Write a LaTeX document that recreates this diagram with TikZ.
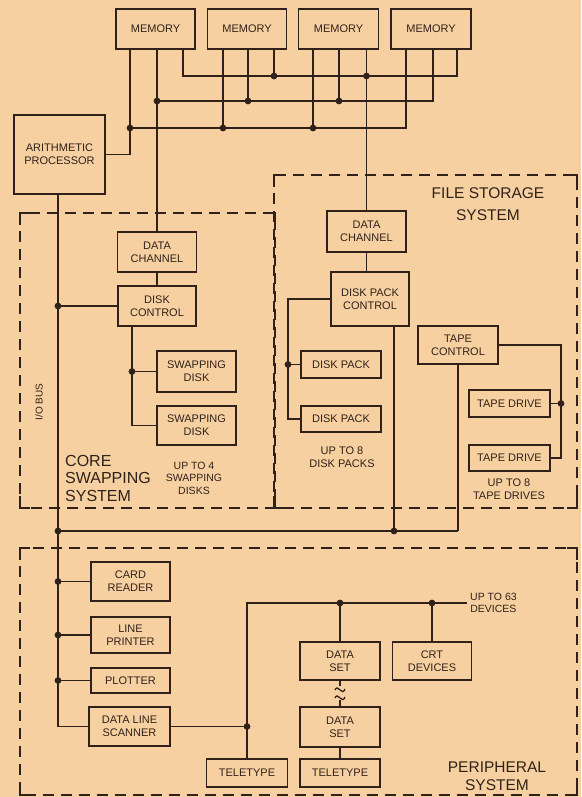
\documentclass[tikz,border=0pt]{standalone}
\usepackage{fontspec}
\setmainfont{Liberation Sans}
\definecolor{bg}{RGB}{246,208,160}
\definecolor{ink}{RGB}{48,34,26}
\newcommand{\grpframe}[4]{%
  \draw[grp] (#1,#2) rectangle (#3,#4);
  \draw[grpc] (#1+10,#2) -- (#1,#2) -- (#1,#2+12);
  \draw[grpc] (#3-10,#2) -- (#3,#2) -- (#3,#2+12);
  \draw[grpc] (#1+10,#4) -- (#1,#4) -- (#1,#4-12);
  \draw[grpc] (#3-10,#4) -- (#3,#4) -- (#3,#4-12);}
\begin{document}
\begin{tikzpicture}[x=1pt,y=-1pt,
  box/.style={draw=ink,line width=1.7pt,text=ink,font=\fontsize{11}{13}\selectfont,align=center,inner sep=1pt},
  conn/.style={draw=ink,line width=1.3pt},
  grp/.style={draw=ink,line width=1.8pt,dash pattern=on 11pt off 7pt},
  grpc/.style={draw=ink,line width=1.8pt},
  lbl/.style={text=ink,font=\fontsize{11}{13}\selectfont,align=center,inner sep=0pt},
  big/.style={text=ink,font=\fontsize{15.5}{18}\selectfont,align=center,inner sep=0pt},
  jdot/.style={fill=ink}]
\fill[bg] (0,0) rectangle (581,797);
\useasboundingbox (0,0) rectangle (581,797);

% group frames
\grpframe{20}{213}{275}{508}
\grpframe{274}{175}{577}{508}
\grpframe{20}{548}{577}{795}

% memories and processor
\node[box,minimum width=79pt,minimum height=40pt] (mem1) at (155.5,29) {MEMORY};
\node[box,minimum width=79pt,minimum height=40pt] (mem2) at (247,29) {MEMORY};
\node[box,minimum width=80pt,minimum height=40pt] (mem3) at (338.5,29) {MEMORY};
\node[box,minimum width=80pt,minimum height=40pt] (mem4) at (431,29) {MEMORY};
\node[box,minimum width=91pt,minimum height=79pt] (proc) at (59.5,154.5) {ARITHMETIC\\PROCESSOR};

% core swapping
\node[box,minimum width=79pt,minimum height=40pt] (dc1) at (157,252) {DATA\\CHANNEL};
\node[box,minimum width=78pt,minimum height=40pt] (dctl) at (157,306) {DISK\\CONTROL};
\node[box,minimum width=79pt,minimum height=41pt] (sd1) at (196.5,371.5) {SWAPPING\\DISK};
\node[box,minimum width=79pt,minimum height=39pt] (sd2) at (196.5,425.5) {SWAPPING\\DISK};

% file storage
\node[box,minimum width=79pt,minimum height=41pt] (dc2) at (366.5,231.5) {DATA\\CHANNEL};
\node[box,minimum width=78pt,minimum height=54pt] (dpc) at (370,299) {DISK PACK\\CONTROL};
\node[box,minimum width=80pt,minimum height=27pt] (dp1) at (341,364.5) {DISK PACK};
\node[box,minimum width=80pt,minimum height=26pt] (dp2) at (341,419) {DISK PACK};
\node[box,minimum width=80pt,minimum height=38pt] (tc) at (458,345) {TAPE\\CONTROL};
\node[box,minimum width=81pt,minimum height=27pt] (td1) at (509.5,403.5) {TAPE DRIVE};
\node[box,minimum width=81pt,minimum height=26pt] (td2) at (509.5,458) {TAPE DRIVE};

% peripheral
\node[box,minimum width=79pt,minimum height=39pt] (card) at (130.5,581.5) {CARD\\READER};
\node[box,minimum width=79pt,minimum height=36pt] (lp) at (130.5,635) {LINE\\PRINTER};
\node[box,minimum width=79pt,minimum height=25pt] (plot) at (130.5,680.5) {PLOTTER};
\node[box,minimum width=81pt,minimum height=39pt] (dls) at (129.5,726.5) {DATA LINE\\SCANNER};
\node[box,minimum width=81pt,minimum height=28pt] (tt1) at (247,773) {TELETYPE};
\node[box,minimum width=80pt,minimum height=38pt] (ds1) at (340,661) {DATA\\SET};
\node[box,minimum width=79pt,minimum height=38pt] (crt) at (432,661) {CRT\\DEVICES};
\node[box,minimum width=80pt,minimum height=40pt] (ds2) at (340,727) {DATA\\SET};
\node[box,minimum width=80pt,minimum height=28pt] (tt2) at (340,773) {TELETYPE};

% junction coordinates
\coordinate (c11) at (183,76);
\coordinate (j12) at (274,76);
\coordinate (j13) at (366.5,76);
\coordinate (c14) at (457,76);
\coordinate (j21) at (157,101);
\coordinate (j22) at (248,101);
\coordinate (j23) at (339,101);
\coordinate (c24) at (433,101);
\coordinate (j31) at (130,128);
\coordinate (j32) at (223,128);
\coordinate (j33) at (313,128);
\coordinate (c34) at (406,128);

\coordinate (jio1) at (58,306);
\coordinate (jsd) at (132,371.5);
\coordinate (csd) at (132,425.5);
\coordinate (jdp) at (288,364.5);
\coordinate (cdp) at (288,419);
\coordinate (jtd) at (561,403.5);
\coordinate (ctd) at (561,458);
\coordinate (jb1) at (58,531);
\coordinate (jb2) at (394,531);
\coordinate (cb) at (458,531);
\coordinate (jcr) at (58,581.5);
\coordinate (jlp) at (58,635);
\coordinate (jpl) at (58,680.5);
\coordinate (cio) at (58,726.5);
\coordinate (jdl) at (247,726.5);
\coordinate (cdl) at (247,603);
\coordinate (jds) at (340,603);
\coordinate (jcrt) at (432,603);
\coordinate (eol) at (467,603);
\coordinate (t1a) at (340,686);
\coordinate (t2b) at (340,700);

% memory bus
\draw[conn] (mem1.south -| j31) -- (j31) |- (proc.east);
\draw[conn] (j31) -- (c34) -- (mem4.south -| c34);
\draw[conn] (mem2.south -| j32) -- (j32);
\draw[conn] (mem3.south -| j33) -- (j33);
\draw[conn] (mem1.south -| j21) -- (dc1.north);
\draw[conn] (j21) -- (c24) -- (mem4.south -| c24);
\draw[conn] (mem2.south -| j22) -- (j22);
\draw[conn] (mem3.south -| j23) -- (j23);
\draw[conn] (mem1.south -| c11) -- (c11) -- (c14) -- (mem4.south -| c14);
\draw[conn] (mem2.south -| j12) -- (j12);
\draw[conn] (mem3.south -| j13) -- (dc2.north);

% core swapping
\draw[conn] (dc1.south) -- (dctl.north);
\draw[conn] (dctl.west) -- (jio1);
\draw[conn] (dctl.south -| csd) -- (csd) -- (sd2.west);
\draw[conn] (jsd) -- (sd1.west);

% file storage
\draw[conn] (dc2.south) -- (dc2.south |- dpc.north);
\draw[conn] (dpc.west) -| (cdp) -- (dp2.west);
\draw[conn] (jdp) -- (dp1.west);
\draw[conn] (dpc.south -| jb2) -- (jb2);
\draw[conn] (tc.east) -| (ctd) -- (td2.east);
\draw[conn] (jtd) -- (td1.east);
\draw[conn] (tc.south) -- (cb);
\draw[conn] (jb1) -- (cb);

% I/O bus
\draw[conn] (proc.south -| jb1) -- (cio) -- (dls.west);
\draw[conn] (jcr) -- (card.west);
\draw[conn] (jlp) -- (lp.west);
\draw[conn] (jpl) -- (plot.west);

% peripheral
\draw[conn] (dls.east) -- (jdl);
\draw[conn] (tt1.north) -- (cdl) -- (eol);
\draw[conn] (jds) -- (ds1.north);
\draw[conn] (jcrt) -- (crt.north);
\draw[conn] (ds1.south) -- (t1a);
\draw[conn] (335,690) .. controls (338,683) and (342,697) .. (345,689);
\draw[conn] (335,698) .. controls (338,691) and (342,705) .. (345,697);
\draw[conn] (t2b) -- (ds2.north);
\draw[conn] (ds2.south) -- (tt2.north);

% dots
\foreach \p in {j12,j13,j21,j22,j23,j31,j32,j33,jio1,jsd,jdp,jtd,jb1,jb2,jcr,jlp,jpl,jdl,jds,jcrt}
  \fill[jdot] (\p) circle (3.4pt);

% labels
\node[big,align=left,anchor=west,font=\fontsize{16}{17.5}\selectfont] (lcore) at (65,478) {CORE\\SWAPPING\\SYSTEM};
\node[lbl,font=\fontsize{10.5}{12.5}\selectfont] (lsd) at (194,478) {UP TO 4\\SWAPPING\\DISKS};
\node[big,font=\fontsize{15.5}{22}\selectfont] (lfile) at (488,204) {FILE STORAGE\\SYSTEM};
\node[lbl] (ldp) at (342,457.5) {UP TO 8\\DISK PACKS};
\node[lbl] (ltd) at (509,489.5) {UP TO 8\\TAPE DRIVES};
\node[lbl,anchor=west,font=\fontsize{10.5}{12.5}\selectfont] (ldev) at (470,603) {UP TO 63\\DEVICES};
\node[big,font=\fontsize{15.5}{18}\selectfont] (lper) at (497,776) {PERIPHERAL\\SYSTEM};
\node[lbl,rotate=90,font=\fontsize{10}{12}\selectfont] (lio) at (39,402) {I/O BUS};
\end{tikzpicture}
\end{document}
